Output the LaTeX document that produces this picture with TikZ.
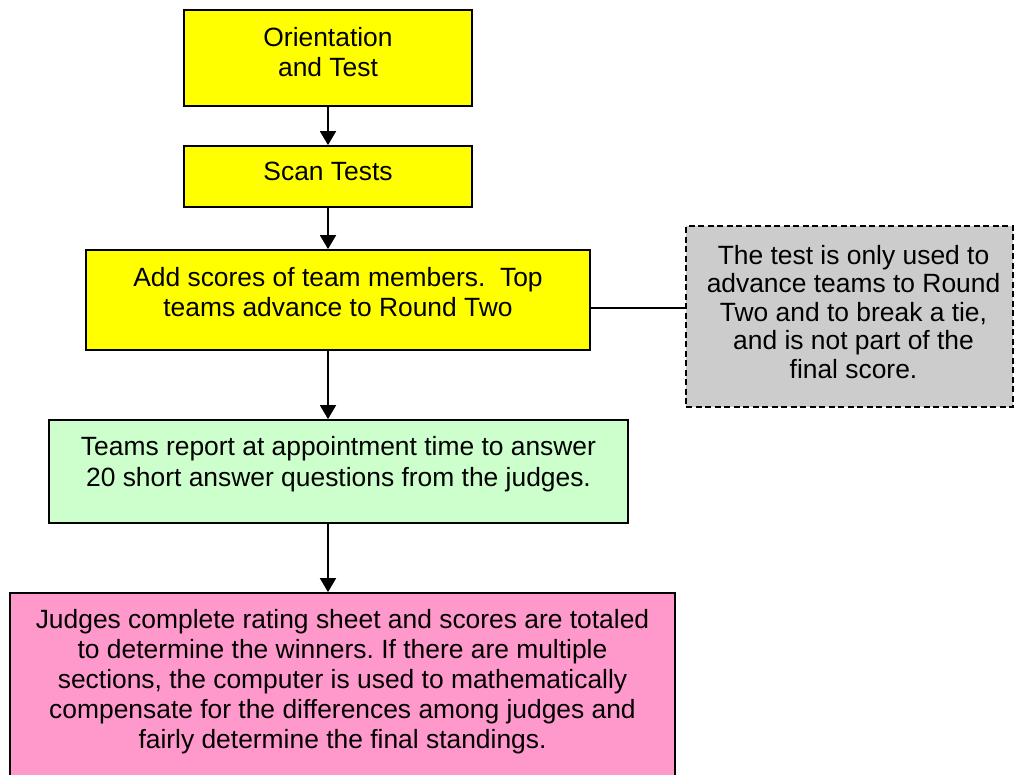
\documentclass[tikz,border=0pt]{standalone}
\usepackage{fontspec}
\setmainfont{Liberation Sans}
\usetikzlibrary{arrows.meta}
\definecolor{boxyellow}{RGB}{255,255,0}
\definecolor{boxgreen}{RGB}{204,255,204}
\definecolor{boxpink}{RGB}{255,153,204}
\definecolor{boxgray}{RGB}{204,204,204}
\frenchspacing
\begin{document}
\begin{tikzpicture}[x=1pt,y=-1pt,
  box/.style={draw=black, line width=1.8pt, rectangle, inner sep=0pt},
  txt/.style={anchor=north, align=center, inner sep=0pt, font=\fontsize{26.4}{30}\selectfont},
  arr/.style={line width=1.8pt, -{Triangle[length=14pt,width=16pt]}},
  conn/.style={line width=1.8pt}]
\useasboundingbox (0,0) rectangle (1014,774);
\fill[white] (0,0) rectangle (1014,774);

\node[box, fill=boxyellow, minimum width=288pt, minimum height=96pt,
  label={[txt, yshift=-18pt]north:Orientation\\and Test}] (orient) at (328,58) {};
\node[box, fill=boxyellow, minimum width=288pt, minimum height=61pt,
  label={[txt, yshift=-17pt]north:Scan Tests}] (scan) at (328,176.5) {};
\node[box, fill=boxyellow, minimum width=504pt, minimum height=100pt,
  label={[txt, yshift=-18pt]north:Add scores of team members.\ \ Top\\teams advance to Round Two}] (add) at (338,300) {};
\node[box, fill=boxgray, dash pattern=on 6pt off 3.5pt, minimum width=327pt, minimum height=181pt,
  label={[txt, yshift=-20pt, xshift=4pt, font=\fontsize{26.4}{28.5}\selectfont]north:The test is only used to\\advance teams to Round\\Two and to break a tie,\\and is not part of the\\final score.}] (gray) at (849.5,316.5) {};
\node[box, fill=boxgreen, minimum width=579pt, minimum height=103pt,
  label={[txt, yshift=-17pt, font=\fontsize{26.4}{31}\selectfont]north:Teams report at appointment time to answer\\20 short answer questions from the judges.}] (green) at (338.5,471.5) {};
\node[box, fill=boxpink, minimum width=665pt, minimum height=183pt,
  label={[txt, yshift=-17pt]north:Judges complete rating sheet and scores are totaled\\to determine the winners. If there are multiple\\sections, the computer is used to mathematically\\compensate for the differences among judges and\\fairly determine the final standings.}] (pink) at (342.5,684.5) {};

\draw[arr] (orient) -- (scan);
\draw[arr] (scan.south) -- (scan.south |- add.north);
\draw[arr] (scan.south |- add.south) -- (scan.south |- green.north);
\draw[arr] (scan.south |- green.south) -- (scan.south |- pink.north);
\draw[conn] ([yshift=-8pt]add.east) -- ([yshift=-8pt]add.east -| gray.west);
\end{tikzpicture}
\end{document}
